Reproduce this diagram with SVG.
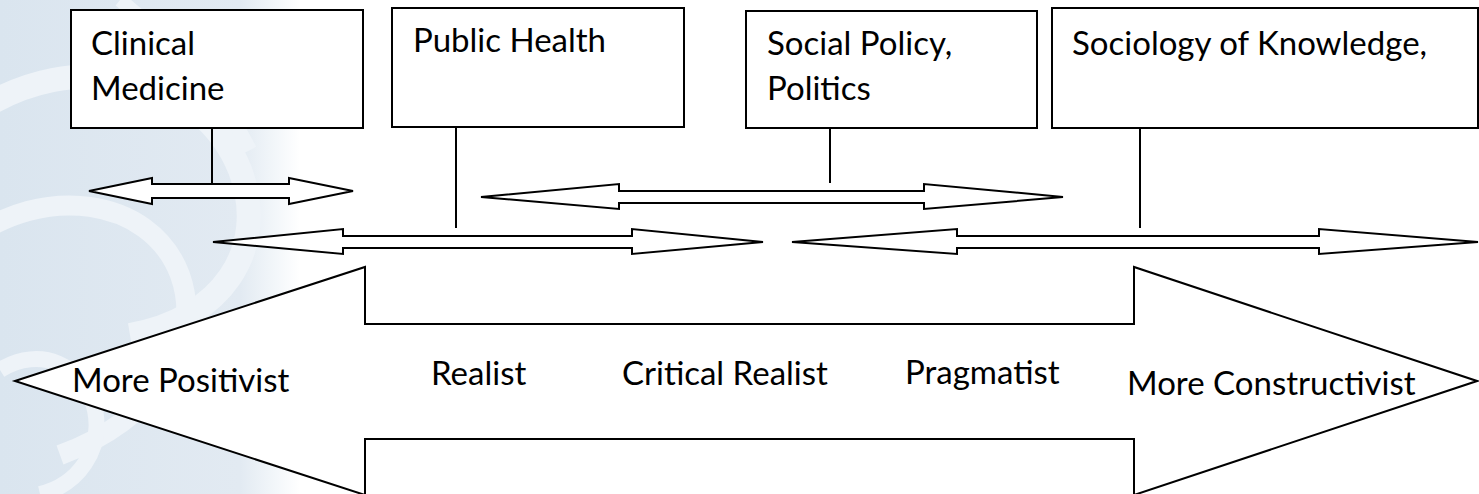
<svg xmlns="http://www.w3.org/2000/svg" width="1479" height="494" viewBox="0 0 1479 494">
<style>
.box{fill:#ffffff;stroke:#000;stroke-width:2}
.arr{fill:#ffffff;stroke:#000;stroke-width:2;stroke-linejoin:miter}
.ln{stroke:#000;stroke-width:2;fill:none}
.t{font-family:Lato,"Open Sans","Liberation Sans",sans-serif;font-size:33px;fill:#000}
.sw{fill:none;stroke:#eef3f8}
</style>
<defs>
<linearGradient id="wm" x1="0" y1="0" x2="1" y2="0">
<stop offset="0" stop-color="#dae5ef"/>
<stop offset="0.8" stop-color="#e2eaf2"/>
<stop offset="0.92" stop-color="#f3f7fa"/>
<stop offset="1" stop-color="#ffffff"/>
</linearGradient>
</defs>
<rect x="0" y="0" width="1479" height="494" fill="#ffffff"/>
<g id="watermark">
<rect x="0" y="0" width="300" height="494" fill="url(#wm)"/>
<path class="sw" d="M-20,110 C70,50 200,70 240,170 C270,250 220,320 130,335" stroke-width="24"/>
<path class="sw" d="M-30,240 C40,185 150,195 180,275 C205,345 155,420 60,455" stroke-width="20"/>
<path class="sw" d="M0,370 C40,345 85,365 95,410 C103,450 78,485 40,494" stroke-width="16"/>
<path class="sw" d="M120,0 C170,40 220,90 250,150" stroke-width="14"/>
</g>
<g id="spectrum">
<path class="arr" d="M15,381 L365,267 L365,324 L1134,324 L1134,267 L1477,381 L1134,495 L1134,439 L365,439 L365,495 Z"/>
<text class="t" x="72" y="392">More Positivist</text>
<text class="t" x="431" y="385">Realist</text>
<text class="t" x="622" y="385">Critical Realist</text>
<text class="t" x="905" y="384">Pragmatist</text>
<text class="t" x="1127" y="395">More Constructivist</text>
</g>
<g id="node-clinical">
<rect class="box" x="71" y="10" width="292" height="118"/>
<text class="t" x="91" y="55">Clinical</text>
<text class="t" x="91" y="100">Medicine</text>
</g>
<g id="node-public-health">
<rect class="box" x="392" y="8" width="292" height="119"/>
<text class="t" x="413" y="52">Public Health</text>
</g>
<g id="node-social-policy">
<rect class="box" x="746" y="11" width="291" height="117"/>
<text class="t" x="767" y="55">Social Policy,</text>
<text class="t" x="767" y="100">Politics</text>
</g>
<g id="node-sociology">
<rect class="box" x="1052" y="8" width="426" height="120"/>
<text class="t" x="1072" y="55">Sociology of Knowledge,</text>
</g>
<g id="connectors">
<line class="ln" x1="212" y1="128" x2="212" y2="184"/>
<line class="ln" x1="456" y1="127" x2="456" y2="228"/>
<line class="ln" x1="830" y1="128" x2="830" y2="183"/>
<line class="ln" x1="1140" y1="128" x2="1140" y2="228"/>
<path class="arr" d="M89,191 L152,178 L152,184 L289,184 L289,178 L353,191 L289,204 L289,198 L152,198 L152,204 Z"/>
<path class="arr" d="M481,197 L619,184 L619,191 L924,191 L924,184 L1063,197 L924,209 L924,203 L619,203 L619,209 Z"/>
<path class="arr" d="M213,242 L343,229 L343,236 L632,236 L632,229 L763,242 L632,254 L632,248 L343,248 L343,254 Z"/>
<path class="arr" d="M792,242 L957,229 L957,236 L1319,236 L1319,229 L1478,242 L1319,254 L1319,248 L957,248 L957,254 Z"/>
</g>
</svg>
